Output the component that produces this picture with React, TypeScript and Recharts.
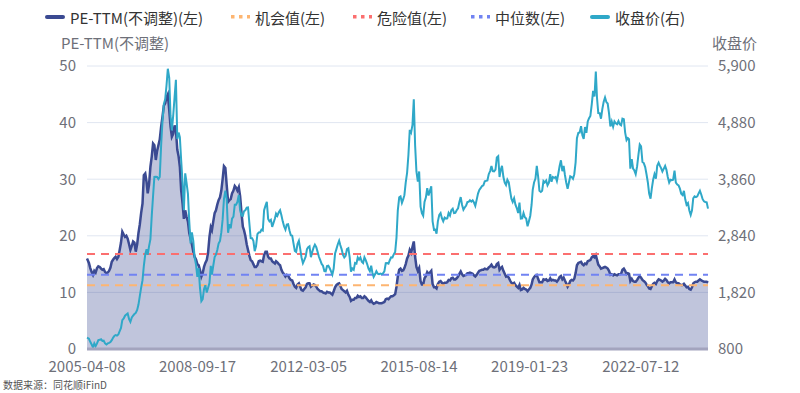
import React from "react";
import { ComposedChart, Area, Line, XAxis, YAxis, CartesianGrid, ReferenceLine } from "recharts";

// 沪深300, two samples a month (mid-month, month-end); 2005 starts 04-08
const close2005 = [1003, 985, 930, 880, 830, 900, 850, 900, 960, 965, 975, 945, 950, 900, 880, 900, 910, 925];
const close2006 = [960, 1006, 1040, 1050, 1040, 1062, 1120, 1180, 1320, 1350, 1400, 1420, 1440, 1340, 1290, 1370, 1400, 1430, 1450, 1505, 1600, 1752, 1900, 2041];
const close2007 = [2300, 2505, 2600, 2497, 2650, 2781, 3200, 3558, 3900, 3904, 3900, 3861, 3900, 4472, 4900, 5218, 5300, 5548, 5850, 5688, 5000, 4737, 5000, 5338];
const close2008 = [5650, 4584, 4700, 4618, 4200, 3790, 3300, 3965, 3800, 3594, 3100, 2702, 2900, 2749, 2450, 2322, 2100, 2258, 1900, 1663, 1700, 1877, 1950, 1817];
const close2009 = [1900, 1990, 2300, 2140, 2300, 2458, 2500, 2586, 2700, 2749, 2900, 3135, 3500, 3654, 3500, 2894, 3050, 2976, 3150, 3184, 3400, 3400, 3450, 3575];
const close2010 = [3300, 3204, 3200, 3282, 3300, 3346, 3350, 3067, 2800, 2797, 2750, 2564, 2650, 2868, 2900, 2904, 2950, 2935, 3300, 3383, 3450, 3145, 3100, 3128];
const close2011 = [3000, 3077, 3150, 3239, 3200, 3263, 3300, 3211, 3100, 3007, 2950, 3044, 3050, 2935, 2850, 2842, 2700, 2569, 2550, 2694, 2750, 2603, 2450, 2346];
const close2012 = [2400, 2464, 2600, 2634, 2650, 2455, 2550, 2626, 2680, 2634, 2550, 2462, 2400, 2333, 2300, 2204, 2200, 2293, 2300, 2254, 2200, 2140, 2250, 2522];
const close2013 = [2600, 2688, 2750, 2673, 2600, 2496, 2450, 2478, 2600, 2617, 2450, 2195, 2250, 2227, 2350, 2338, 2450, 2410, 2450, 2373, 2350, 2451, 2400, 2331];
const close2014 = [2250, 2202, 2300, 2178, 2100, 2146, 2200, 2159, 2150, 2160, 2150, 2165, 2200, 2346, 2350, 2339, 2400, 2451, 2450, 2509, 2550, 2808, 3300, 3533];
const close2015 = [3550, 3434, 3500, 3572, 3800, 3979, 4300, 4749, 4700, 4840, 5300, 4473, 4000, 3816, 4000, 3366, 3250, 3203, 3450, 3534, 3700, 3566, 3650, 3731];
const close2016 = [3100, 2946, 2950, 2877, 3100, 3218, 3250, 3157, 3100, 3169, 3150, 3154, 3250, 3204, 3300, 3327, 3250, 3253, 3300, 3336, 3450, 3538, 3400, 3311];
const close2017 = [3350, 3387, 3450, 3452, 3480, 3456, 3480, 3439, 3380, 3492, 3600, 3666, 3700, 3737, 3750, 3822, 3830, 3837, 3950, 4006, 4100, 4006, 4000, 4031];
const close2018 = [4250, 4275, 3900, 4023, 4100, 3899, 3800, 3756, 3850, 3802, 3650, 3510, 3450, 3517, 3400, 3335, 3250, 3438, 3150, 3153, 3250, 3173, 3150, 3011];
const close2019 = [3100, 3202, 3400, 3670, 3800, 3872, 4100, 3913, 3650, 3630, 3650, 3826, 3800, 3836, 3750, 3799, 3950, 3814, 3900, 3886, 3900, 3828, 3950, 4097];
const close2020 = [4200, 4004, 4100, 3940, 3800, 3686, 3800, 3913, 3900, 3868, 3950, 4164, 4600, 4695, 4700, 4816, 4650, 4587, 4800, 4695, 4900, 4960, 5000, 5211];
const close2021 = [5450, 5351, 5800, 5336, 5050, 5048, 4950, 5123, 5250, 5331, 5250, 5224, 5050, 4811, 4900, 4805, 4900, 4866, 4850, 4908, 4850, 4833, 4950, 4940];
const close2022 = [4700, 4564, 4600, 4581, 4050, 4222, 4050, 4016, 3950, 4091, 4300, 4485, 4450, 4170, 4150, 4079, 3950, 3805, 3600, 3508, 3700, 3854, 3950, 3871];
const close2023 = [4100, 4157, 4100, 4061, 4000, 4051, 4100, 4029, 3900, 3799, 3850, 3842, 3850, 4014, 3800, 3765, 3750, 3690, 3600, 3573, 3650, 3497, 3400, 3431];
const close2024 = [3300, 3215, 3300, 3516, 3550, 3537, 3550, 3604, 3650, 3580, 3500, 3462, 3450, 3443, 3330];

const pe2005 = [16.0, 15.2, 14.3, 13.6, 13.1, 13.8, 13.5, 14.3, 14.6, 14.5, 14.2, 14.0, 14.1, 13.6, 13.4, 13.5, 13.8, 14.4];
const pe2006 = [15.4, 15.8, 16.1, 16.3, 15.9, 16.3, 17.5, 18.8, 20.7, 20.2, 19.8, 20.0, 19.5, 18.5, 17.5, 18.2, 19.0, 18.8, 17.2, 18.5, 20.5, 22.0, 24.0, 25.7];
const pe2007 = [30.7, 31.0, 29.5, 27.5, 29.0, 32.2, 34.0, 36.3, 36.0, 33.4, 35.0, 36.0, 37.0, 39.3, 41.0, 43.0, 43.4, 44.5, 45.0, 42.2, 39.3, 37.5, 38.0, 39.5];
const pe2008 = [38.7, 35.2, 34.0, 32.2, 28.0, 25.7, 23.0, 24.5, 23.4, 22.5, 20.5, 19.5, 18.5, 17.2, 16.3, 15.8, 15.0, 14.8, 14.0, 12.8, 13.4, 14.5, 15.2, 15.7];
const pe2009 = [17.0, 19.8, 21.5, 21.0, 22.5, 24.0, 24.5, 25.5, 26.3, 26.8, 28.0, 30.0, 32.3, 32.0, 29.0, 26.0, 26.3, 26.5, 27.5, 28.0, 28.8, 28.5, 28.0, 28.6];
const pe2010 = [27.0, 24.0, 21.6, 21.0, 20.0, 18.5, 17.5, 16.5, 15.7, 15.5, 15.0, 14.5, 14.5, 14.8, 15.5, 15.6, 15.5, 15.4, 16.6, 17.2, 17.2, 16.3, 16.0, 16.0];
const pe2011 = [15.5, 15.3, 15.1, 15.5, 15.3, 15.0, 14.8, 14.0, 13.5, 13.2, 12.8, 13.1, 13.0, 12.5, 12.2, 12.1, 11.5, 11.0, 10.8, 11.4, 11.6, 11.0, 10.4, 10.3];
const pe2012 = [10.6, 10.9, 11.5, 11.6, 11.6, 11.0, 11.2, 11.4, 11.3, 11.0, 10.6, 10.4, 10.2, 10.2, 10.0, 9.9, 9.8, 10.1, 10.0, 10.0, 9.8, 9.6, 10.2, 10.9];
const pe2013 = [11.3, 11.5, 11.6, 11.2, 10.6, 10.4, 10.2, 10.0, 10.3, 9.6, 9.2, 8.5, 8.7, 8.7, 9.0, 9.0, 9.4, 9.2, 9.3, 9.0, 9.0, 9.3, 9.1, 8.8];
const pe2014 = [8.5, 8.3, 8.6, 8.2, 8.0, 8.1, 8.3, 8.2, 8.1, 8.1, 8.1, 8.2, 8.3, 8.8, 8.9, 8.8, 9.1, 9.3, 9.3, 9.5, 9.7, 11.0, 12.8, 14.0];
const pe2015 = [14.2, 13.8, 13.9, 14.3, 15.0, 16.0, 16.5, 17.5, 17.0, 18.0, 19.0, 16.3, 14.5, 13.8, 14.3, 12.0, 11.4, 11.4, 12.5, 12.9, 13.6, 13.3, 13.5, 13.8];
const pe2016 = [11.5, 10.9, 10.9, 10.7, 11.5, 11.9, 12.0, 11.7, 11.5, 11.7, 11.7, 11.8, 12.2, 12.1, 12.5, 12.6, 12.3, 12.3, 12.5, 12.8, 13.3, 13.7, 13.2, 12.9];
const pe2017 = [13.0, 13.1, 13.4, 13.4, 13.5, 13.4, 13.3, 13.0, 12.8, 13.1, 13.5, 13.8, 13.9, 14.0, 14.0, 14.2, 14.1, 14.1, 14.4, 14.6, 14.9, 14.5, 14.4, 14.5];
const pe2018 = [15.0, 15.2, 14.0, 14.3, 14.5, 13.8, 13.3, 12.8, 12.9, 12.6, 12.1, 11.7, 11.5, 11.7, 11.3, 11.0, 10.8, 11.3, 10.4, 10.5, 10.8, 10.6, 10.5, 10.2];
const pe2019 = [10.5, 10.8, 11.4, 12.3, 12.7, 13.0, 13.1, 12.4, 11.8, 11.8, 11.8, 12.3, 12.2, 12.3, 12.0, 12.1, 12.5, 12.1, 12.2, 12.1, 12.1, 11.9, 12.2, 12.7];
const pe2020 = [12.9, 12.3, 12.6, 12.1, 11.6, 11.0, 11.4, 12.0, 12.2, 12.1, 12.4, 13.4, 14.8, 15.2, 15.3, 15.4, 15.0, 14.8, 15.1, 15.0, 15.5, 15.6, 15.7, 16.2];
const pe2021 = [16.4, 16.2, 16.6, 15.8, 14.9, 14.6, 14.2, 14.3, 14.4, 14.5, 14.4, 14.2, 13.8, 13.1, 13.2, 13.0, 13.2, 13.1, 13.0, 13.2, 13.2, 13.3, 14.0, 14.2];
const pe2022 = [13.8, 13.2, 13.4, 13.3, 12.0, 12.4, 12.0, 11.9, 11.9, 12.2, 12.6, 12.9, 12.6, 12.2, 12.0, 11.8, 11.4, 11.1, 10.7, 10.6, 11.1, 11.5, 11.7, 11.5];
const pe2023 = [12.0, 12.3, 12.2, 12.1, 11.9, 12.1, 12.4, 12.2, 11.8, 11.6, 11.8, 11.8, 11.8, 12.3, 11.8, 11.6, 11.6, 11.4, 11.3, 11.3, 11.5, 11.2, 10.9, 11.0];
const pe2024 = [10.6, 10.5, 10.9, 11.6, 11.8, 11.9, 11.9, 12.1, 12.3, 12.1, 12.0, 11.9, 11.9, 11.9, 11.7];

const closeByYear = [close2005, close2006, close2007, close2008, close2009, close2010, close2011, close2012, close2013, close2014,
  close2015, close2016, close2017, close2018, close2019, close2020, close2021, close2022, close2023, close2024];
const peByYear = [pe2005, pe2006, pe2007, pe2008, pe2009, pe2010, pe2011, pe2012, pe2013, pe2014,
  pe2015, pe2016, pe2017, pe2018, pe2019, pe2020, pe2021, pe2022, pe2023, pe2024];

const opportunity = 11.25; // 机会值
const danger = 16.8; // 危险值
const median = 13.1; // 中位数

const dateTicks = ["2005-04-08", "2008-09-17", "2012-03-05", "2015-08-14", "2019-01-23", "2022-07-12"];
const peTicks = [0, 10, 20, 30, 40, 50];
const closeTicks = [800, 1820, 2840, 3860, 4880, 5900];

const toTime = (s: string) => {
  const [y, m, d] = s.split("-").map(Number);
  return Date.UTC(y, m - 1, d);
};

const fmtDate = (t: number) => {
  const d = new Date(t);
  const p = (n: number) => String(n).padStart(2, "0");
  return `${d.getUTCFullYear()}-${p(d.getUTCMonth() + 1)}-${p(d.getUTCDate())}`;
};

function buildRows() {
  const rows: { t: number; pe: number; close: number }[] = [];
  closeByYear.forEach((closes, k) => {
    const year = 2005 + k;
    const startMonth = k === 0 ? 3 : 0;
    closes.forEach((close, i) => {
      const month = startMonth + Math.floor(i / 2);
      let t = i % 2 === 0 ? Date.UTC(year, month, 15) : Date.UTC(year, month + 1, 0);
      if (k === 0 && i === 0) t = toTime("2005-04-08");
      rows.push({ t, pe: peByYear[k][i], close });
    });
  });
  return rows;
}

const data = buildRows();

const FONT = '"Noto Sans CJK SC", "Noto Sans", sans-serif';
const AXIS_TEXT = "#6e7079";

const legendItems = [
  { label: "PE-TTM(不调整)(左)", color: "#3b4a92", dotted: false, x: 45 },
  { label: "机会值(左)", color: "#fdb571", dotted: true, x: 230 },
  { label: "危险值(左)", color: "#fb6f6f", dotted: true, x: 352 },
  { label: "中位数(左)", color: "#7183f2", dotted: true, x: 470 },
  { label: "收盘价(右)", color: "#2fa8c8", dotted: false, x: 590 },
];

function LegendIcon({ color, dotted }: { color: string; dotted: boolean }) {
  return (
    <svg width={20} height={8} style={{ display: "block" }}>
      {dotted ? (
        [0, 8, 16].map((x) => <rect key={x} x={x + 1} y={2} width={3.5} height={3.5} fill={color} />)
      ) : (
        <line x1={2} y1={4} x2={18} y2={4} stroke={color} strokeWidth={4} strokeLinecap="round" />
      )}
    </svg>
  );
}

export default function App() {
  return (
    <div style={{ position: "relative", width: 800, height: 393, fontFamily: FONT, background: "#fff" }}>
      <style>{"body{margin:0}"}</style>

      {legendItems.map((it) => (
        <div
          key={it.label}
          style={{ position: "absolute", left: it.x, top: 6, height: 22, display: "flex", alignItems: "center", gap: 5, fontSize: 15, color: "#333", whiteSpace: "nowrap" }}
        >
          <LegendIcon color={it.color} dotted={it.dotted} />
          <span>{it.label}</span>
        </div>
      ))}

      <div style={{ position: "absolute", left: 61, top: 32, fontSize: 15, color: AXIS_TEXT }}>PE-TTM(不调整)</div>
      <div style={{ position: "absolute", left: 712, top: 32, fontSize: 15, color: AXIS_TEXT }}>收盘价</div>

      <ComposedChart width={800} height={393} data={data} margin={{ top: 66, right: 0, bottom: 14, left: 0 }}>
        <CartesianGrid vertical={false} stroke="#e0e6f1" yAxisId="left" />
        <XAxis
          dataKey="t"
          type="number"
          domain={["dataMin", "dataMax"]}
          ticks={dateTicks.map(toTime)}
          tickFormatter={fmtDate}
          interval={0}
          height={30}
          tickLine={false}
          tickSize={0}
          tickMargin={12}
          axisLine={{ stroke: "#a3a4be", strokeWidth: 3 }}
          tick={{ fill: AXIS_TEXT, fontSize: 15, fontFamily: FONT }}
        />
        <YAxis
          yAxisId="left"
          domain={[0, 50]}
          ticks={peTicks}
          width={87}
          axisLine={false}
          tickLine={false}
          tickSize={0}
          tickMargin={11}
          tick={{ fill: AXIS_TEXT, fontSize: 15, fontFamily: FONT }}
        />
        <YAxis
          yAxisId="right"
          orientation="right"
          domain={[800, 5900]}
          ticks={closeTicks}
          width={92}
          axisLine={false}
          tickLine={false}
          tickSize={0}
          tickMargin={10}
          tickFormatter={(v: number) => v.toLocaleString("en-US")}
          tick={{ fill: AXIS_TEXT, fontSize: 15, fontFamily: FONT, textAnchor: "start" }}
        />
        <Area
          yAxisId="left"
          dataKey="pe"
          type="linear"
          stroke="#3b4a92"
          strokeWidth={2.5}
          fill="#3b4a92"
          fillOpacity={0.32}
          dot={false}
          activeDot={false}
          isAnimationActive={false}
        />
        <ReferenceLine yAxisId="left" y={danger} stroke="#fb6f6f" strokeWidth={2} strokeDasharray="8 6" />
        <ReferenceLine yAxisId="left" y={median} stroke="#7183f2" strokeWidth={2} strokeDasharray="8 6" />
        <ReferenceLine yAxisId="left" y={opportunity} stroke="#fdb571" strokeWidth={2} strokeDasharray="8 6" />
        <Line
          yAxisId="right"
          dataKey="close"
          type="linear"
          stroke="#2fa8c8"
          strokeWidth={2}
          dot={false}
          activeDot={false}
          isAnimationActive={false}
        />
      </ComposedChart>

      <div style={{ position: "absolute", left: 3, top: 377, fontSize: 10, color: "#555" }}>数据来源：同花顺iFinD</div>
    </div>
  );
}
